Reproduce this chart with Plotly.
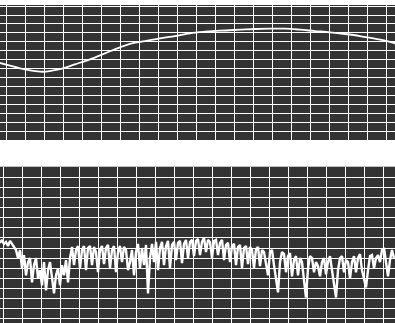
import numpy as np
import plotly.graph_objects as go
from plotly.subplots import make_subplots

# ---- top panel: smooth response curve ----
top_x = [-0.35, 0.17, 0.70, 1.23, 1.86, 2.38, 2.96, 3.59, 4.38, 5.17, 5.96, 6.59,
         7.28, 8.07, 8.86, 9.65, 10.44, 11.23, 12.28, 13.07, 13.86, 14.65, 15.44,
         16.23, 17.02, 17.81, 18.59, 19.38, 19.91, 20.44]
top_y = [86.4, 83.4, 80.4, 78.2, 76.6, 77.8, 80.4, 84.9, 90.5, 97.2, 103.9, 108.4,
         110.9, 114.0, 116.5, 119.6, 121.3, 122.5, 123.6, 124.4, 124.7, 124.7, 123.6,
         122.1, 120.7, 118.8, 116.5, 113.5, 111.3, 108.4]

# ---- bottom panel: spectrum-like signal (dB) ----
bottom_px = [
    243, 240, 244, 242, 246, 241, 244, 247, 250,
    258, 250, 268, 255, 275, 262, 258, 282, 265, 258, 278, 270, 285, 262, 290, 270,
    262, 280, 293, 275, 268, 285, 265, 275, 260, 282, 258,
    247, 265, 250, 246, 268, 250, 246, 270, 248, 246, 265, 247, 252, 272, 250, 246,
    264, 248, 245, 268, 250, 246, 272, 252, 246, 262, 247, 250, 270, 262,
    250, 275, 252, 244, 268, 248, 265, 245, 293, 258, 244, 262, 242, 270, 248,
    242, 265, 246, 241, 268, 245, 242, 260, 243, 241, 263, 244, 240, 258, 242, 240,
    256, 241, 239, 255, 242, 238, 252, 240, 242, 258, 241, 240, 255, 243, 240, 260,
    245, 243,
    262, 246, 244, 265, 247, 245, 268, 248, 246, 264, 247, 250, 268, 249, 247, 266,
    250, 252,
    262, 275, 252, 250, 265, 278, 292, 262, 252, 254, 272, 256, 253, 276, 260, 256,
    275, 258, 262, 280, 297, 268, 256, 258, 272, 262, 266, 276, 262, 258, 274, 262,
    256, 270, 282, 297, 270, 258, 256, 272, 260, 262, 278, 262, 256, 272, 258, 254,
    270, 278, 287, 270, 256, 255, 268, 258, 255, 262, 250, 248, 262, 276, 260, 250,
    258,
]
bottom_db = [168 - v for v in bottom_px]
sample_step = 2 / 19.0
bottom_x = [-3.3 / 19.0 + i * sample_step for i in range(len(bottom_db))]

fig = make_subplots(rows=2, cols=1, shared_xaxes=False, vertical_spacing=0.0)

fig.add_trace(go.Scatter(x=top_x, y=top_y, mode="lines",
                         line=dict(color="white", width=1.8, shape="spline"),
                         showlegend=False), row=1, col=1)
fig.add_trace(go.Scatter(x=bottom_x, y=bottom_db, mode="lines",
                         line=dict(color="white", width=2.4),
                         showlegend=False), row=2, col=1)

axis_common = dict(showgrid=True, gridcolor="white", gridwidth=1, zeroline=False,
                   showline=False, showticklabels=False, ticks="")

fig.update_layout(
    width=395, height=323,
    margin=dict(l=0, r=0, t=5, b=0),
    paper_bgcolor="white", plot_bgcolor="#333333",
    showlegend=False,
    xaxis=dict(domain=[0, 1], range=[-0.353, 20.437], dtick=1, tick0=0, **axis_common),
    yaxis=dict(domain=[0.5755, 1.0], range=[0.34, 151.2], dtick=10, tick0=0, **axis_common),
    xaxis2=dict(domain=[0, 1], range=[-0.174, 20.616], dtick=1, tick0=0, **axis_common),
    yaxis2=dict(domain=[0.0, 0.4915], range=[-154.25, 0.5], dtick=10, tick0=0, **axis_common),
)

fig.write_html("out.html", config={"displayModeBar": False},
               post_script="document.body.style.margin='0';document.body.style.overflow='hidden';")
